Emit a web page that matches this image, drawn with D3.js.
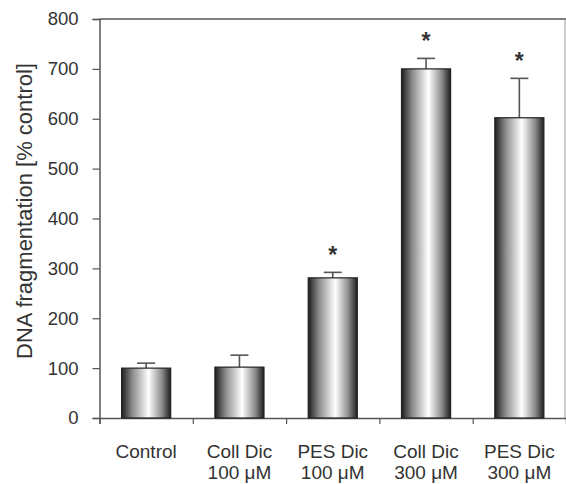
<!DOCTYPE html>
<html>
<head>
<meta charset="utf-8">
<script src="https://cdn.jsdelivr.net/npm/d3@7"></script>
<style>
  body { margin: 0; background: #fff; }
  text { font-family: "Liberation Sans", Arial, sans-serif; fill: #333; }
</style>
</head>
<body>
<svg id="chart" width="566" height="484"></svg>
<script>
// chart data
var categories = [["Control"], ["Coll Dic", "100 \u03BCM"], ["PES Dic", "100 \u03BCM"], ["Coll Dic", "300 \u03BCM"], ["PES Dic", "300 \u03BCM"]];
var means = [100, 102, 281, 700, 602];
var errors = [10, 24, 11, 21, 79];
var significant = [false, false, true, true, true];
var yTicks = [0, 100, 200, 300, 400, 500, 600, 700, 800];

var svg = d3.select("#chart");
var margin = {top: 19, right: 0, bottom: 66, left: 99.5};
var width = 566 - margin.left - margin.right,
    height = 484 - margin.top - margin.bottom;

var defs = svg.append("defs");
var grad = defs.append("linearGradient").attr("id", "barGrad")
    .attr("x1", "0%").attr("x2", "100%").attr("y1", "0%").attr("y2", "0%");
grad.append("stop").attr("offset", "0%").attr("stop-color", "#1e1e1e");
grad.append("stop").attr("offset", "22%").attr("stop-color", "#8c8c8c");
grad.append("stop").attr("offset", "55%").attr("stop-color", "#ffffff");
grad.append("stop").attr("offset", "82%").attr("stop-color", "#8c8c8c");
grad.append("stop").attr("offset", "100%").attr("stop-color", "#1e1e1e");

var g = svg.append("g")
    .attr("transform", "translate(" + margin.left + "," + margin.top + ")");

var x = d3.scaleBand()
    .domain(d3.range(categories.length))
    .range([0, width])
    .paddingInner(0.474)
    .paddingOuter(0.237);

var y = d3.scaleLinear().domain([0, 800]).range([height, 0]);

// frame top/right
g.append("line").attr("x1", 0).attr("x2", width).attr("y1", 0).attr("y2", 0)
    .attr("stroke", "#555").attr("stroke-width", 1.5);
g.append("line").attr("x1", width - 1).attr("x2", width - 1).attr("y1", 0).attr("y2", height)
    .attr("stroke", "#999").attr("stroke-width", 1);

// y axis
var yAxis = g.append("g")
    .call(d3.axisLeft(y).tickValues(yTicks).tickSize(7).tickPadding(14).tickFormat(d3.format("d")));
yAxis.select(".domain").attr("stroke", "#555").attr("stroke-width", 1.5);
yAxis.selectAll(".tick line").attr("stroke", "#555").attr("stroke-width", 1.2);
yAxis.selectAll(".tick text").style("font-size", "18.5px").attr("fill", "#333");

// x axis: ticks at category boundaries
var xb = d3.scaleLinear().domain([0, categories.length]).range([0, width]);
var xAxis = g.append("g").attr("transform", "translate(0," + height + ")")
    .call(d3.axisBottom(xb).tickValues(d3.range(categories.length)).tickSize(6).tickFormat(""));
xAxis.select(".domain").attr("stroke", "#555").attr("stroke-width", 1.5);
xAxis.selectAll(".tick line").attr("stroke", "#555").attr("stroke-width", 1.2);

// category labels
categories.forEach(function (lines, i) {
    var cx = x(i) + x.bandwidth() / 2;
    var t = g.append("text")
        .attr("x", cx)
        .attr("y", height + 40)
        .attr("text-anchor", "middle")
        .style("font-size", "19px");
    lines.forEach(function (l, j) {
        t.append("tspan").attr("x", cx)
            .attr("dy", j === 0 ? 0 : 21).text(l);
    });
});

// error bars (upper only)
var capW = 9;
g.selectAll(".err").data(means).enter().append("g").each(function (d, i) {
    var cx = x(i) + x.bandwidth() / 2;
    var s = d3.select(this);
    s.append("line").attr("x1", cx).attr("x2", cx)
        .attr("y1", y(d)).attr("y2", y(d + errors[i]))
        .attr("stroke", "#555").attr("stroke-width", 1.6);
    s.append("line").attr("x1", cx - capW).attr("x2", cx + capW)
        .attr("y1", y(d + errors[i])).attr("y2", y(d + errors[i]))
        .attr("stroke", "#555").attr("stroke-width", 1.6);
});

// bars
g.selectAll(".bar").data(means).enter().append("rect")
    .attr("class", "bar")
    .attr("x", (d, i) => x(i))
    .attr("y", d => y(d))
    .attr("width", x.bandwidth())
    .attr("height", d => height - y(d))
    .attr("fill", "url(#barGrad)")
    .attr("stroke", "#222")
    .attr("stroke-width", 1.2);

// significance stars
means.forEach(function (d, i) {
    if (!significant[i]) return;
    g.append("text")
        .attr("x", x(i) + x.bandwidth() / 2)
        .attr("y", y(d + errors[i]) - 9)
        .attr("text-anchor", "middle")
        .style("font-size", "23px")
        .style("font-weight", "bold")
        .text("*");
});

// y axis title
svg.append("text")
    .attr("transform", "translate(32,211) rotate(-90)")
    .attr("text-anchor", "middle")
    .style("font-size", "22px")
    .text("DNA fragmentation [% control]");
</script>
</body>
</html>
